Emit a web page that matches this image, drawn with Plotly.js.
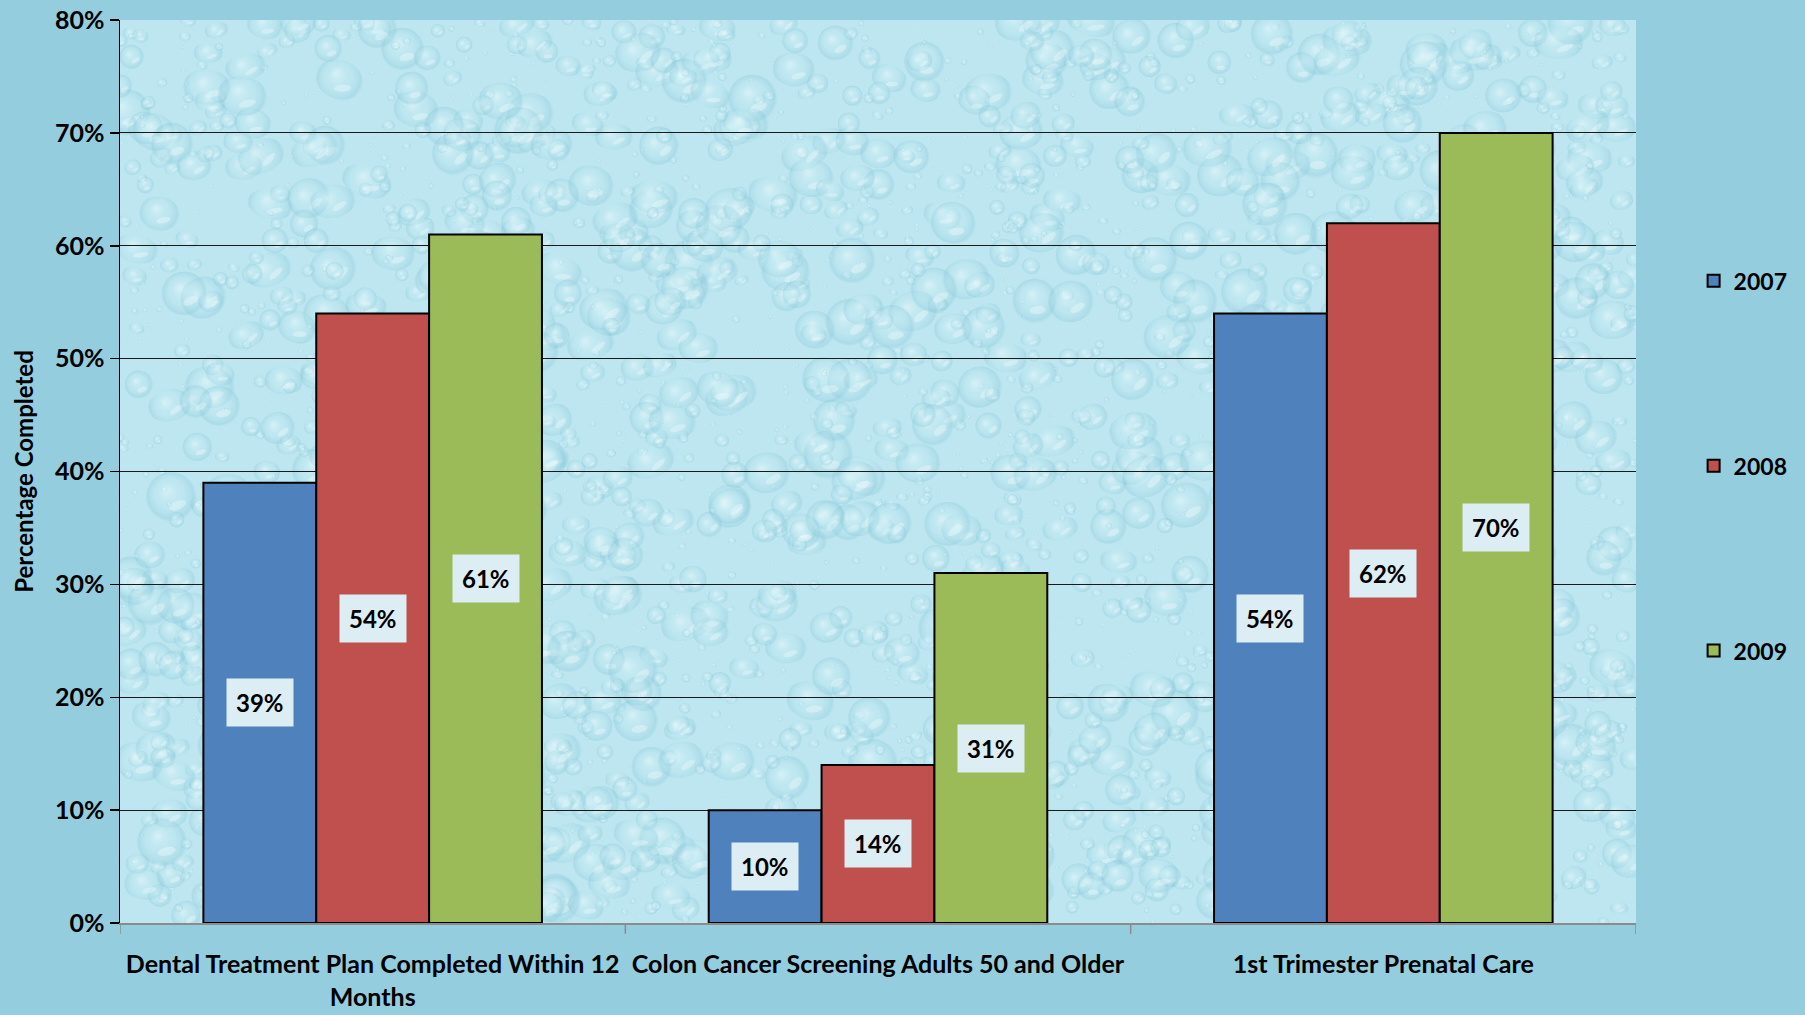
<!DOCTYPE html>
<html>
<head>
<meta charset="utf-8">
<script src="https://cdn.plot.ly/plotly-3.0.1.min.js"></script>
<style>
  html, body { margin: 0; padding: 0; background: #93CDDE; }
  #chart { width: 1805px; height: 1015px; }
</style>
</head>
<body>
<div id="chart"></div>
<script>
// ---- Data ----
const categories = [
  "Dental Treatment Plan Completed Within 12<br>Months",
  "Colon Cancer Screening Adults 50 and Older",
  "1st Trimester Prenatal Care"
];
const seriesNames = ["2007", "2008", "2009"];
const values2007 = [0.39, 0.10, 0.54];
const values2008 = [0.54, 0.14, 0.62];
const values2009 = [0.61, 0.31, 0.70];
const seriesColors = ["#4F81BD", "#C0504D", "#9BBB59"];
const yTickVals = [0, 0.1, 0.2, 0.3, 0.4, 0.5, 0.6, 0.7, 0.8];
const yTickText = ["0%", "10%", "20%", "30%", "40%", "50%", "60%", "70%", "80%"];

const allValues = [values2007, values2008, values2009];
const FONT = "Lato, 'Open Sans', sans-serif";
const bargap = 0.33;

// ---- decorative water-drop texture for the plot area (deterministic) ----
function makeTexture(w, h) {
  const c = document.createElement("canvas");
  c.width = w; c.height = h;
  const g = c.getContext("2d");
  g.fillStyle = "#BDE6F0";
  g.fillRect(0, 0, w, h);
  let s = 12345;
  const rnd = () => { s = (s * 1103515245 + 12345) % 2147483648; return s / 2147483648; };
  for (let k = 0; k < 3200; k++) {
    const x = rnd() * w, y = rnd() * h;
    const r = 2 + Math.pow(rnd(), 2.5) * 24;
    const ry = r * (0.6 + rnd() * 0.4);
    g.save();
    g.translate(x, y);
    g.rotate((rnd() - 0.5) * 0.8);
    // soft shadow rim
    const grad = g.createRadialGradient(-r * 0.2, -ry * 0.25, r * 0.05, 0, 0, r);
    grad.addColorStop(0, "rgba(240,252,254,0.45)");
    grad.addColorStop(0.5, "rgba(190,232,241,0.15)");
    grad.addColorStop(0.88, "rgba(125,192,210,0.28)");
    grad.addColorStop(1, "rgba(125,192,210,0.0)");
    g.fillStyle = grad;
    g.beginPath();
    g.ellipse(0, 0, r, ry, 0, 0, Math.PI * 2);
    g.fill();
    // small highlight crescent
    g.fillStyle = "rgba(245,253,255,0.35)";
    g.beginPath();
    g.ellipse(r * 0.25, ry * 0.35, r * 0.35, ry * 0.18, -0.4, 0, Math.PI * 2);
    g.fill();
    g.restore();
  }
  return c.toDataURL("image/png");
}

const traces = allValues.map((vals, i) => ({
  type: "bar",
  name: seriesNames[i],
  x: [0, 1, 2],
  y: vals,
  marker: { color: seriesColors[i], line: { color: "#000000", width: 2 } },
  legendgroup: "g" + i,
  hoverinfo: "skip"
}));

// label annotations placed at mid-bar through data coordinates
const barW = (1 - bargap) / allValues.length;
const annotations = [];
allValues.forEach((vals, i) => {
  const off = (i - (allValues.length - 1) / 2) * barW;
  vals.forEach((v, j) => {
    annotations.push({
      x: j + off, y: v / 2, xref: "x", yref: "y",
      text: Math.round(v * 100) + "%",
      showarrow: false,
      bgcolor: "#DCEEF4",
      borderpad: 9,
      font: { family: FONT, size: 24, color: "#000000", weight: "bold" }
    });
  });
});

const layout = {
  width: 1805, height: 1015,
  paper_bgcolor: "#93CDDE",
  plot_bgcolor: "#BDE6F0",
  margin: { l: 120, r: 169, t: 20, b: 92, autoexpand: false },
  barmode: "group",
  bargap: bargap,
  bargroupgap: 0,
  font: { family: FONT, size: 25, color: "#000000", weight: "bold" },
  xaxis: {
    type: "linear",
    range: [-0.5, 2.5],
    tickmode: "array",
    tickvals: [0, 1, 2],
    ticktext: categories,
    ticks: "",
    showgrid: false,
    zeroline: false,
    showline: true,
    linecolor: "#8C8C8C",
    linewidth: 2,
    tickfont: { family: FONT, size: 25, color: "#000000", weight: "bold" },
    ticklabelstandoff: 18
  },
  yaxis: {
    range: [0, 0.8],
    tickmode: "array",
    tickvals: yTickVals,
    ticktext: yTickText,
    ticks: "outside",
    ticklen: 9,
    tickwidth: 1.5,
    tickcolor: "#000000",
    showgrid: true,
    gridcolor: "#1a1a1a",
    gridwidth: 1,
    zeroline: false,
    showline: true,
    linecolor: "#000000",
    linewidth: 1.5,
    tickfont: { family: FONT, size: 25, color: "#000000", weight: "bold" },
    title: { text: "Percentage Completed", font: { family: FONT, size: 24, color: "#000000", weight: "bold" }, standoff: 14 }
  },
  legend: {
    x: 1.038, xanchor: "left",
    y: 0.735, yanchor: "top",
    bgcolor: "rgba(0,0,0,0)",
    tracegroupgap: 152,
    font: { family: FONT, size: 23, color: "#000000", weight: "bold" },
    itemclick: false
  },
  images: [{
    source: makeTexture(1516, 903),
    xref: "paper", yref: "paper", x: 0, y: 1, sizex: 1, sizey: 1,
    sizing: "stretch", xanchor: "left", yanchor: "top", layer: "below"
  }],
  shapes: [
    ...[ -0.5, 0.5, 1.5, 2.5 ].map(b => ({
      type: "line", xref: "x", yref: "paper", x0: b, x1: b, y0: 0, y1: -0.012,
      line: { color: "#8C8C8C", width: 1.5 }
    }))
  ],
  annotations: annotations
};

Plotly.newPlot("chart", traces, layout, { staticPlot: true, displayModeBar: false });
</script>
</body>
</html>
